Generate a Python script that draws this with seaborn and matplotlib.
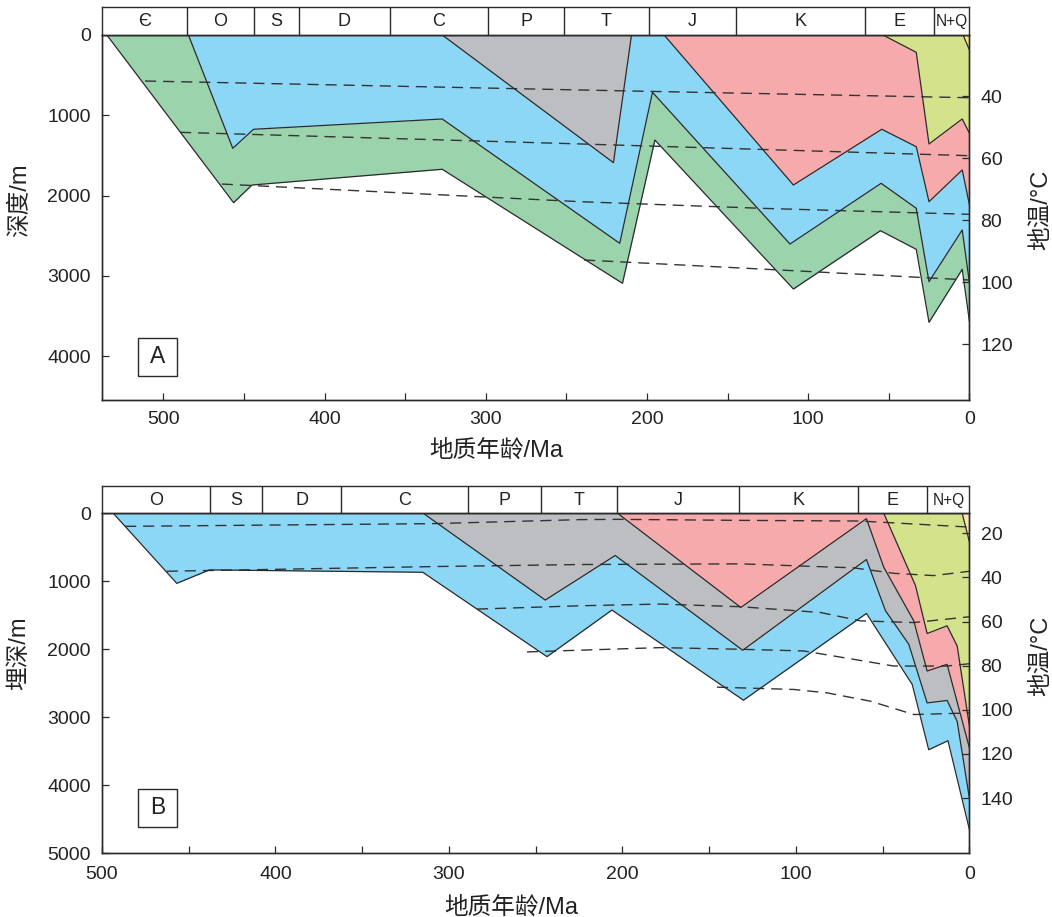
import numpy as np
import matplotlib
matplotlib.use("Agg")
import matplotlib.pyplot as plt
import seaborn as sns
from matplotlib.ticker import MultipleLocator
from matplotlib.patches import Rectangle

sns.set_theme(style="ticks")
plt.rcParams["font.family"] = ["Liberation Sans", "Noto Sans CJK SC", "DejaVu Sans"]

# ---------------- panel A ----------------
a_periods = ["Є", "O", "S", "D", "C", "P", "T", "J", "K", "E", "N+Q"]
a_bounds = [538, 485, 444, 416, 359.6, 298.4, 251.5, 199, 144.6, 64.7, 22.3, 0]

# horizons: time (Ma) and burial depth (m)
a_h1_t = [535, 456.4, 445, 327, 215.2, 195.1, 109.2, 55.2, 33, 25.1, 4.5, 0]
a_h1_d = [0, 2088, 1868, 1672, 3092, 1308, 3163, 2437, 2669, 3578, 2918, 3570]
a_h2_t = [484.4, 456.9, 444, 327, 216.9, 196.6, 111.3, 54.8, 33, 25.1, 4.5, 0]
a_h2_d = [0, 1411, 1174, 1046, 2594, 714, 2603, 1847, 2158, 3072, 2428, 3088]
a_h3_t = [327, 220.8, 209.6, 189.4, 109.2, 54.4, 33, 25.1, 4.5, 0]
a_h3_d = [0, 1590, 0, 0, 1868, 1174, 1391, 2076, 1681, 2117]
a_h4_t = [53.7, 33, 25.1, 4.5, 0]
a_h4_d = [0, 216, 1357, 1046, 1224]
a_h5_t = [4, 0]
a_h5_d = [0, 187]

# isotherms
a_t40_t = [511.3, 241, 0]
a_t40_d = [573, 685, 781]
a_t60_t = [489.6, 241, 0]
a_t60_d = [1212, 1357, 1503]
a_t80_t = [463.7, 241, 129.3, 0]
a_t80_d = [1856, 2076, 2158, 2233]
a_t100_t = [239, 109.2, 0]
a_t100_d = [2802, 2935, 3051]
a_temp_ticks = [40, 60, 80, 100, 120]

# ---------------- panel B ----------------
b_periods = ["O", "S", "D", "C", "P", "T", "J", "K", "E", "N+Q"]
b_bounds = [500, 438, 407.7, 362, 289.3, 246.8, 203, 132.6, 64.2, 24.4, 0]

b_h1_t = [493.5, 456.9, 438.1, 315.1, 243.5, 206.1, 130.3, 59.4, 33, 23.5, 12.4, 0]
b_h1_d = [0, 1031, 833, 868, 2110, 1424, 2751, 1474, 2519, 3480, 3347, 4659]
b_h2_t = [314.8, 244.5, 204.2, 130.7, 59.4, 48.4, 35, 24.4, 12.9, 7.1, 0]
b_h2_d = [0, 1277, 621, 2016, 680, 1435, 1927, 2791, 2755, 3062, 4200]
b_h3_t = [202.8, 131.8, 59.4, 49.4, 32.1, 24.4, 12.9, 0]
b_h3_d = [0, 1386, 79, 794, 1583, 2322, 2223, 3456]
b_h4_t = [49.4, 31.1, 24.4, 12.9, 7.1, 0]
b_h4_d = [0, 1065, 1770, 1656, 1952, 3135]
b_h5_t = [4.2, 0]
b_h5_d = [0, 424]

b_t20_t = [486.7, 308.9, 224.3, 203.2, 132.1, 62.9, 28.3, 0]
b_t20_d = [192, 152, 93, 89, 104, 114, 163, 203]
b_t40_t = [462.7, 308.9, 224.3, 132.1, 66.7, 43.7, 20.6, 0]
b_t40_d = [853, 784, 754, 744, 803, 883, 917, 853]
b_t60_t = [283.9, 224.3, 178.2, 132.1, 85.9, 62.9, 32.1, 0]
b_t60_d = [1410, 1361, 1336, 1375, 1460, 1583, 1608, 1523]
b_t80_t = [255, 178.2, 132.1, 95.6, 43.7, 12.9, 0]
b_t80_d = [2040, 1977, 2001, 2026, 2248, 2248, 2214]
b_t100_t = [145.5, 101.3, 82.1, 57, 32.1, 0]
b_t100_d = [2559, 2593, 2643, 2766, 2962, 2939]
b_temp_ticks = [20, 40, 60, 80, 100, 120, 140]

INK = "#2a2a2a"
GREEN = "#9bd3ad"
BLUE = "#8dd7f6"
GRAY = "#bdbec2"
PINK = "#f6aaac"
OLIVE = "#d3e28b"
YELLOW_A = "#f7e97a"
YELLOW_B = "#fde4b4"


def depth_on(grid, hz):
    if hz is None:
        return np.zeros_like(grid)
    tt, dd = hz
    return np.interp(grid, tt[::-1], dd[::-1], left=0, right=0)


def draw_panel(ax, horizons, layers, isotherms):
    for color, b, tp, t0, t1 in layers:
        pts = list(horizons[b][0]) + (list(horizons[tp][0]) if tp else []) + [t0, t1]
        grid = np.unique([p for p in pts if t1 <= p <= t0]).astype(float)
        base = depth_on(grid, horizons[b])
        top = depth_on(grid, horizons[tp] if tp else None)
        ax.fill_between(grid, top, base, color=color, lw=0, zorder=1)
    for tt, dd in isotherms:
        sns.lineplot(x=tt, y=dd, ax=ax, sort=False, estimator=None,
                     color="#333333", lw=1.0, zorder=3)
        ax.lines[-1].set_dashes((8, 5))
    for tt, dd in horizons.values():
        sns.lineplot(x=tt, y=dd, ax=ax, sort=False, estimator=None,
                     color=INK, lw=0.9, zorder=4)


def draw_header(hax, bounds, names, xlim):
    hax.set_xlim(xlim)
    hax.set_ylim(0, 1)
    for b in bounds[1:-1]:
        hax.axvline(b, color=INK, lw=1.0)
    for n, l, r in zip(names, bounds[:-1], bounds[1:]):
        hax.text((l + r) / 2, 0.47, n, ha="center", va="center",
                 fontsize=11.2 if n == "N+Q" else 13, color="#222")
    hax.set_xticks([])
    hax.set_yticks([])
    for s in hax.spines.values():
        s.set_color(INK)
        s.set_linewidth(1.0)


def style_axes(ax, xlim, ylim, yticks, tlim, tticks, pad_x):
    ax.set_xlim(xlim)
    ax.set_ylim(ylim)
    ax.set_yticks(yticks)
    ax.xaxis.set_major_locator(MultipleLocator(100))
    ax.xaxis.set_minor_locator(MultipleLocator(50))
    ax.tick_params(which="both", direction="in", length=5, width=0.9,
                   color=INK, labelcolor="#222", labelsize=14)
    ax.tick_params(axis="y", pad=8)
    ax.tick_params(axis="x", pad=pad_x)
    for s in ax.spines.values():
        s.set_color(INK)
        s.set_linewidth(1.0)
    ax2 = ax.twinx()
    ax2.set_ylim(tlim)
    ax2.set_yticks(tticks)
    ax2.tick_params(direction="in", length=5, width=0.9, color=INK,
                    labelcolor="#222", labelsize=14, pad=8)
    for s in ax2.spines.values():
        s.set_color(INK)
        s.set_linewidth(1.0)
    return ax2


def panel_tag(ax, letter, x0, y0, w, h):
    ax.add_patch(Rectangle((x0, y0), w, h, transform=ax.transAxes, fc="white",
                           ec=INK, lw=1.0, zorder=6))
    ax.text(x0 + w / 2, y0 + h / 2, letter, transform=ax.transAxes, ha="center",
            va="center", fontsize=16.5, color="#222", zorder=7)


fig = plt.figure(figsize=(10.52, 9.17), dpi=100)
axA = fig.add_axes([0.09696, 0.5638, 0.8246, 0.39804])
hA = fig.add_axes([0.09696, 0.96183, 0.8246, 0.03086])
axB = fig.add_axes([0.09696, 0.06979, 0.8246, 0.37045])
hB = fig.add_axes([0.09696, 0.44024, 0.8246, 0.0301])

a_horizons = {
    "h1": (a_h1_t, a_h1_d), "h2": (a_h2_t, a_h2_d), "h3": (a_h3_t, a_h3_d),
    "h4": (a_h4_t, a_h4_d), "h5": (a_h5_t, a_h5_d),
}
a_layers = [
    (GREEN, "h1", "h2", 535, 0),
    (BLUE, "h2", "h3", 484.4, 0),
    (GRAY, "h3", None, 327, 209.6),
    (PINK, "h3", "h4", 189.4, 0),
    (OLIVE, "h4", "h5", 53.7, 0),
    (YELLOW_A, "h5", None, 4, 0),
]
a_iso = [(a_t40_t, a_t40_d), (a_t60_t, a_t60_d), (a_t80_t, a_t80_d), (a_t100_t, a_t100_d)]
draw_panel(axA, a_horizons, a_layers, a_iso)
axA2 = style_axes(axA, (538, 0), (4545, 0), [0, 1000, 2000, 3000, 4000],
                  (138.06, 20.32), a_temp_ticks, 8)
draw_header(hA, a_bounds, a_periods, (538, 0))

b_horizons = {
    "h1": (b_h1_t, b_h1_d), "h2": (b_h2_t, b_h2_d), "h3": (b_h3_t, b_h3_d),
    "h4": (b_h4_t, b_h4_d), "h5": (b_h5_t, b_h5_d),
}
b_layers = [
    (BLUE, "h1", "h2", 493.5, 0),
    (GRAY, "h2", "h3", 314.8, 0),
    (PINK, "h3", "h4", 202.8, 0),
    (OLIVE, "h4", "h5", 49.4, 0),
    (YELLOW_B, "h5", None, 4.2, 0),
]
b_iso = [(b_t20_t, b_t20_d), (b_t40_t, b_t40_d), (b_t60_t, b_t60_d),
         (b_t80_t, b_t80_d), (b_t100_t, b_t100_d)]
draw_panel(axB, b_horizons, b_layers, b_iso)
axB2 = style_axes(axB, (500, 0), (5000, 0), [0, 1000, 2000, 3000, 4000, 5000],
                  (164.9, 10.9), b_temp_ticks, 9)
draw_header(hB, b_bounds, b_periods, (500, 0))

lab = dict(fontsize=17, color="#222", va="center")
axA.set_xlabel("地质年龄/Ma", **lab)
axA.xaxis.set_label_coords(0.455, -0.137)
axA.set_ylabel("深度/m", **lab)
axA.yaxis.set_label_coords(-0.095, 0.548)
axA2.set_ylabel("地温/°C", **lab)
axA2.yaxis.set_label_coords(1.083, 0.52)

axB.set_xlabel("地质年龄/Ma", **lab)
axB.xaxis.set_label_coords(0.472, -0.16)
axB.set_ylabel("埋深/m", **lab)
axB.yaxis.set_label_coords(-0.095, 0.589)
axB2.set_ylabel("地温/°C", **lab)
axB2.yaxis.set_label_coords(1.083, 0.58)

panel_tag(axA, "A", 0.0419, 0.0658, 0.0447, 0.105)
panel_tag(axB, "B", 0.0419, 0.0765, 0.0447, 0.112)

fig.savefig("out.png", dpi=100)
